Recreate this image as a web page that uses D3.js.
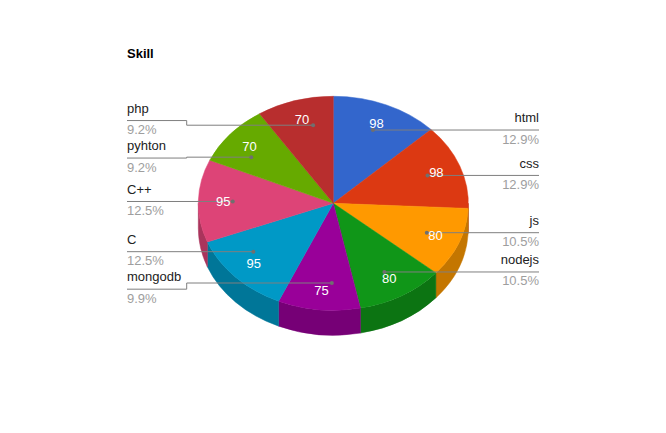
<!DOCTYPE html>
<html>
<head>
<meta charset="utf-8">
<script src="https://cdn.jsdelivr.net/npm/d3@7"></script>
<style>
  html, body { margin: 0; padding: 0; background: #fff; }
  svg { display: block; font-family: "Liberation Sans", Arial, sans-serif; }
</style>
</head>
<body>
<svg id="chart" width="666" height="433"></svg>
<script>
// ---- data ----
const title = "Skill";
const categories = ["html", "css", "js", "nodejs", "mongodb", "C", "C++", "pyhton", "php"];
const values = [98, 98, 80, 80, 75, 95, 95, 70, 70];
const colors = ["#3366cc", "#dc3912", "#ff9900", "#109618", "#990099", "#0099c6", "#dd4477", "#66aa00", "#b82e2e"];

// ---- layout ----
const W = 666, H = 433;
const cx = 333.3, cy = 203.3, rx = 135, ry = 107, depth = 25;
const labelLeftX = 127, labelRightX = 539;
const elbowLeftX = 186.7, elbowRightX = 479.3;
const minGap = 37.5;

const svg = d3.select("#chart");

const total = d3.sum(values);
const pctFmt = d3.format(".1%");

const pie = d3.pie().sort(null).value(d => d.value);
const data = categories.map((c, i) => ({ name: c, value: values[i], color: colors[i] }));
const arcs = pie(data);

// Ellipse point for angle (clockwise from 12 o'clock) at radius fraction f
const ex = (a, f = 1) => cx + rx * f * Math.sin(a);
const ey = (a, f = 1) => cy - ry * f * Math.cos(a);

function topPath(a0, a1) {
  const large = (a1 - a0) > Math.PI ? 1 : 0;
  return `M${cx},${cy}L${ex(a0)},${ey(a0)}A${rx},${ry} 0 ${large} 1 ${ex(a1)},${ey(a1)}Z`;
}
function sidePath(a0, a1) {
  const large = (a1 - a0) > Math.PI ? 1 : 0;
  return `M${ex(a0)},${ey(a0)}A${rx},${ry} 0 ${large} 1 ${ex(a1)},${ey(a1)}` +
         `L${ex(a1)},${ey(a1) + depth}A${rx},${ry} 0 ${large} 0 ${ex(a0)},${ey(a0) + depth}Z`;
}
function darken(c, k) {
  const col = d3.rgb(c);
  return d3.rgb(col.r * k, col.g * k, col.b * k).formatHex();
}

// title
svg.append("text")
  .attr("x", 127).attr("y", 58)
  .attr("font-size", 13).attr("font-weight", "bold").attr("fill", "#000")
  .text(title);

// sides (front half: PI/2 .. 3PI/2)
const gSide = svg.append("g");
arcs.forEach(a => {
  const b0 = Math.max(a.startAngle, Math.PI / 2);
  const b1 = Math.min(a.endAngle, 3 * Math.PI / 2);
  if (b1 > b0) {
    gSide.append("path")
      .attr("d", sidePath(b0, b1))
      .attr("fill", darken(a.data.color, 0.77))
      .attr("stroke", darken(a.data.color, 0.77))
      .attr("stroke-width", 0.5);
  }
});

// tops
const gTop = svg.append("g");
arcs.forEach(a => {
  gTop.append("path")
    .attr("d", topPath(a.startAngle, a.endAngle))
    .attr("fill", a.data.color)
    .attr("stroke", a.data.color)
    .attr("stroke-width", 0.5);
});

// labels
const items = arcs.map(a => {
  const mid = (a.startAngle + a.endAngle) / 2;
  return {
    a, mid,
    side: mid < Math.PI ? "right" : "left",
    dotY: ey(mid, 0.745),
    pct: a.data.value / total
  };
});

["left", "right"].forEach(side => {
  const group = items.filter(d => d.side === side).sort((p, q) => p.dotY - q.dotY);
  group.forEach(d => d.ly = d.dotY);
  for (let it = 0; it < 200; it++) {
    let moved = false;
    for (let i = 0; i < group.length - 1; i++) {
      const gap = group[i + 1].ly - group[i].ly;
      if (gap < minGap - 0.01) {
        const push = (minGap - gap) / 2;
        group[i].ly -= push;
        group[i + 1].ly += push;
        moved = true;
      }
    }
    if (!moved) break;
  }
});

const gLab = svg.append("g");
items.forEach(d => {
  const f = 0.745;
  const width = d.a.endAngle - d.a.startAngle;
  const maxShift = 0.15 * width;
  // move dot along the ellipse toward the label y, within limits
  let ang = d.mid;
  const ny = -(d.ly - cy) / (ry * f); // = cos(angle)
  let target;
  if (ny >= 1) target = d.side === "left" ? 2 * Math.PI : 0;
  else if (ny <= -1) target = Math.PI;
  else {
    const base = Math.acos(ny);
    target = d.side === "left" ? 2 * Math.PI - base : base;
  }
  ang = Math.max(d.mid - maxShift, Math.min(d.mid + maxShift, target));
  const dx = ex(ang, f), dy = ey(ang, f);
  const straight = Math.abs(dy - d.ly) < 0.8;
  const lineY = d.ly;
  let pts;
  if (d.side === "left") {
    pts = straight ? [[labelLeftX, lineY], [dx, lineY]]
                   : [[labelLeftX, lineY], [elbowLeftX, lineY], [elbowLeftX, dy], [dx, dy]];
  } else {
    pts = straight ? [[labelRightX, lineY], [dx, lineY]]
                   : [[labelRightX, lineY], [elbowRightX, lineY], [elbowRightX, dy], [dx, dy]];
  }
  gLab.append("path")
    .attr("d", d3.line()(pts))
    .attr("fill", "none")
    .attr("stroke", "#7f7f7f")
    .attr("stroke-width", 1);
  gLab.append("circle")
    .attr("cx", pts[pts.length - 1][0]).attr("cy", pts[pts.length - 1][1])
    .attr("r", 2).attr("fill", "#6f6f6f");

  const tx = d.side === "left" ? labelLeftX : labelRightX;
  const anchor = d.side === "left" ? "start" : "end";
  gLab.append("text")
    .attr("x", tx).attr("y", lineY - 7.7)
    .attr("text-anchor", anchor)
    .attr("font-size", 13).attr("fill", "#222")
    .text(d.a.data.name);
  gLab.append("text")
    .attr("x", tx).attr("y", lineY + 13.5)
    .attr("text-anchor", anchor)
    .attr("font-size", 13).attr("fill", "#9e9e9e")
    .text(pctFmt(d.pct));
});

// value labels on slices (drawn on top)
const gVal = svg.append("g");
items.forEach(d => {
  gVal.append("text")
    .attr("x", ex(d.mid, 0.815))
    .attr("y", ey(d.mid, 0.815) + 4.6)
    .attr("text-anchor", "middle")
    .attr("font-size", 13).attr("fill", "#fff")
    .text(d.a.data.value);
});
</script>
</body>
</html>
